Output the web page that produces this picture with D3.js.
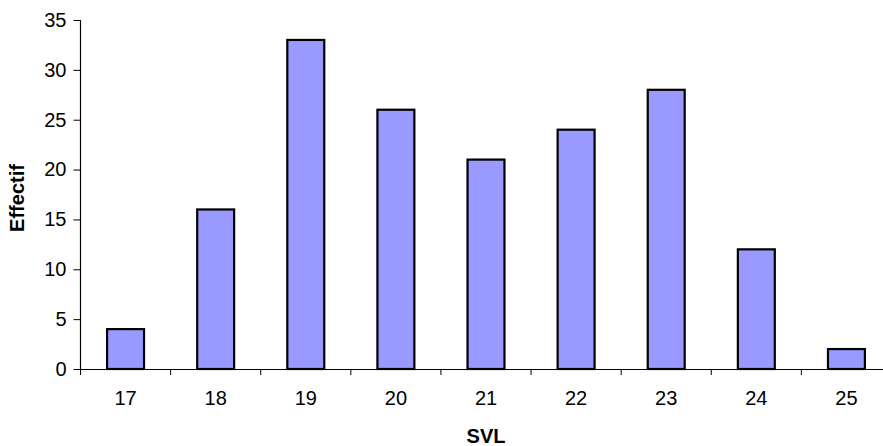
<!DOCTYPE html>
<html><head><meta charset="utf-8">
<script src="https://cdn.jsdelivr.net/npm/d3@7"></script>
<style>body{margin:0;background:#fff}svg{display:block}text{font-family:"Liberation Sans",Arial,sans-serif}</style>
</head><body><svg id="c" width="883" height="446"></svg>
<script>
const categories = ["17","18","19","20","21","22","23","24","25"];
const values = [4,16,33,26,21,24,28,12,2];
const yTicks = [0,5,10,15,20,25,30,35];

const svg = d3.select("#c");
const x0 = 80.5, x1 = 891.5, yBase = 369, yTop = 20;
const x = d3.scaleBand().domain(categories).range([x0, x1]).padding(0);
const y = d3.scaleLinear().domain([0,35]).range([yBase, yTop]);
const bw = x.bandwidth()*0.41;

svg.append("g").selectAll("rect").data(values).join("rect")
  .attr("x",(d,i)=>x(categories[i])+x.bandwidth()/2-bw/2)
  .attr("y",d=>y(d))
  .attr("width",bw)
  .attr("height",d=>yBase-y(d))
  .attr("fill","#9999FF").attr("stroke","#000").attr("stroke-width",2.2);

const yAxis = svg.append("g").attr("transform",`translate(${x0},0)`)
  .call(d3.axisLeft(y).tickValues(yTicks).tickSize(7).tickPadding(7));
const xAxis = svg.append("g").attr("transform",`translate(0,${yBase})`)
  .call(d3.axisBottom(x).tickSize(0).tickPadding(22));
xAxis.selectAll("line.b").data(d3.range(categories.length+1)).join("line")
  .attr("class","b")
  .attr("x1",i=>x0+i*x.bandwidth()).attr("x2",i=>x0+i*x.bandwidth())
  .attr("y1",0).attr("y2",6).attr("stroke","#000");
[yAxis,xAxis].forEach(g=>{
  g.attr("font-size",20);
  g.selectAll("path.domain").attr("stroke","#000").attr("stroke-width",1.2);
  g.selectAll(".tick line").attr("stroke","#000");
  g.selectAll("text").attr("font-size",20).attr("fill","#000").style("font-family","'Liberation Sans',Arial,sans-serif");
});
yAxis.select("path.domain").attr("d",`M0,${yTop}V${yBase}`);
yAxis.selectAll(".tick line").attr("x2",-7);

svg.append("text").attr("x",486).attr("y",443).attr("text-anchor","middle")
  .attr("font-size",20).attr("font-weight","bold").text("SVL");
svg.append("text").attr("transform","translate(24,198) rotate(-90)").attr("text-anchor","middle")
  .attr("font-size",20).attr("font-weight","bold").text("Effectif");
</script></body></html>
